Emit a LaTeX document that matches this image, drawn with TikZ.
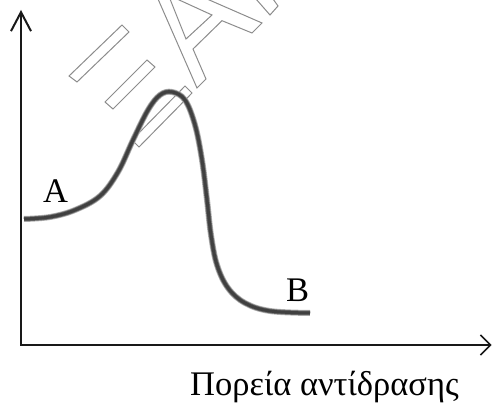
\documentclass[tikz,border=0pt]{standalone}
\usepackage{fontspec}
\setmainfont{Liberation Serif}
\usetikzlibrary{arrows.meta}
\begin{document}
\begin{tikzpicture}[x=1pt,y=-1pt,
  axis/.style={draw=black!90,line cap=butt},
  wmark/.style={draw=black!45,line width=1pt,line join=miter},
  lbl/.style={font=\fontsize{34.5}{40}\selectfont,inner sep=0pt,anchor=base west}]
\useasboundingbox (0,0) rectangle (492,403);
% watermark
\begin{scope}
\clip (0,0) rectangle (492,403);
\draw[wmark] (69,76) -- (77,82) -- (129,32) -- (122,25) -- cycle;
\draw[wmark] (105,102) -- (113,109) -- (155,67) -- (147,60) -- cycle;
\draw[wmark] (132,140) -- (139,147) -- (192,93) -- (185,86) -- cycle;
\draw[wmark] (158,-1) -- (197,88) -- (206,79) -- (193,49) -- (222,20.7) -- (252,33) -- (262,23) -- (207,-1);
\draw[wmark] (170,-1) -- (186,39) -- (212,15) -- (177,-1);
\draw[wmark] (256,-1) -- (270,15) -- (278,6) -- (273,-1);
\end{scope}
% axes
\coordinate (o1) at (21,344);
\coordinate (ytip) at (21,10);
\coordinate (o2) at (20,345);
\coordinate (xtip) at (491.5,345);
\draw[axis,line width=2pt,-{Straight Barb[length=19pt,width=20pt]}] (o1) -- (ytip);
\draw[axis,line width=1.5pt,-{Straight Barb[length=10pt,width=20pt]}] (o2) -- (xtip);
% curve
\def\curvepath{plot[smooth,tension=0.6] coordinates {(24,219) (50,217) (75,210) (100,196) (118,172) (133,140) (148,110) (160,95) (172,92) (185,100) (195,125) (202,160) (207,200) (211,235) (217,265) (228,288) (245,303) (270,311) (310,313)}}
\draw[line width=6pt,draw=black!30,line cap=butt] \curvepath;
\draw[line width=4.5pt,draw=black!60,line cap=butt] \curvepath;
\draw[line width=3pt,draw=black!75,line cap=butt] \curvepath;
% labels
\node[lbl] (A) at (43,203) {A};
\node[lbl] (B) at (286,301) {B};
\node[lbl] (xl) at (190,395) {Πορεία αντίδρασης};
\end{tikzpicture}
\end{document}
